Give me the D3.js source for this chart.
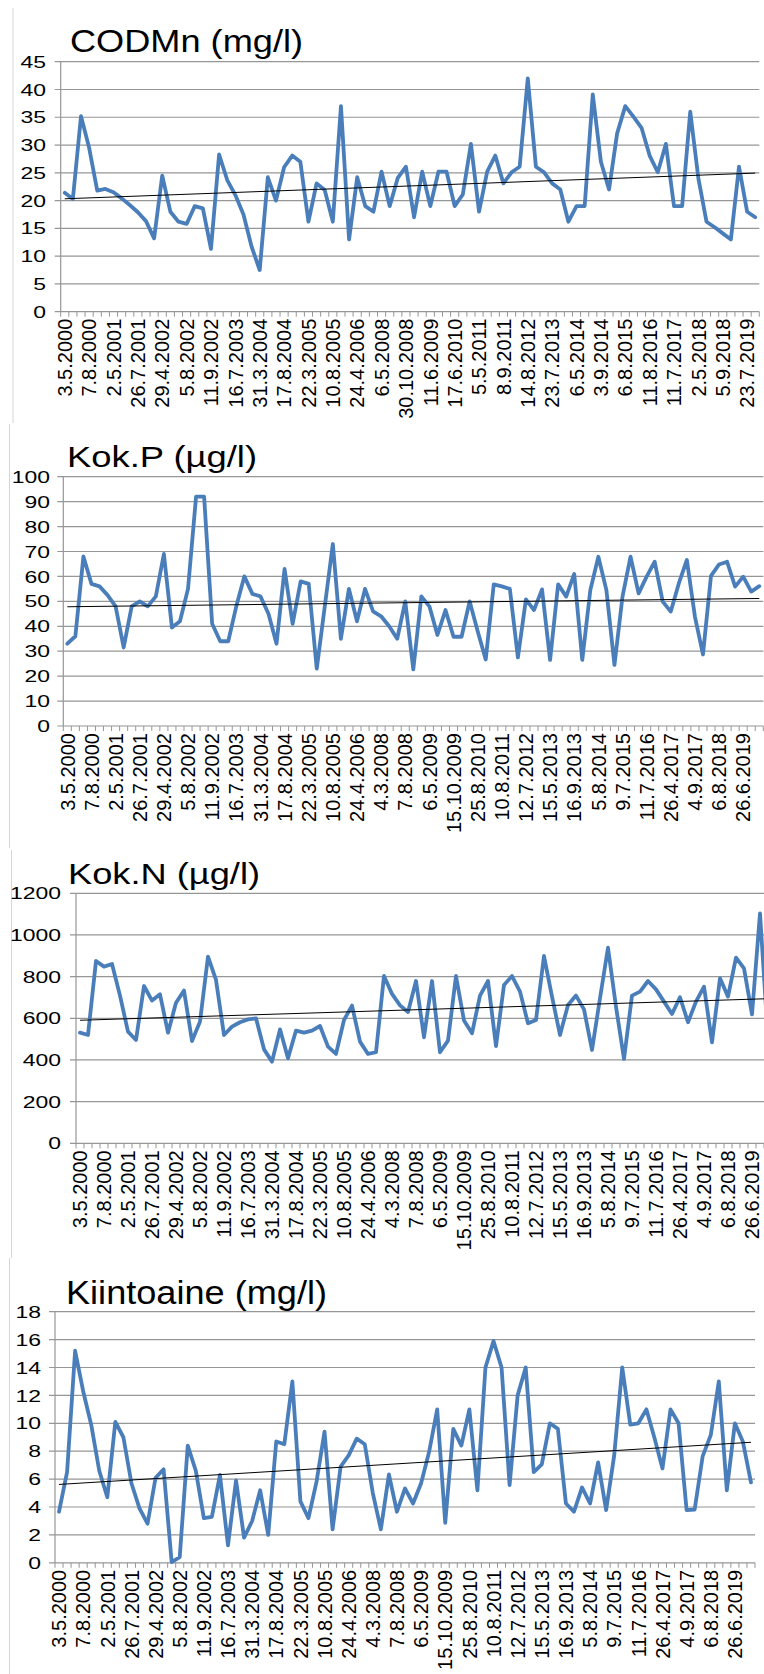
<!DOCTYPE html>
<html><head><meta charset="utf-8">
<script src="https://cdn.jsdelivr.net/npm/d3@7"></script>
<style>body{margin:0;background:#fff}svg{display:block}text{font-family:"Liberation Sans",Arial,sans-serif;fill:#000}</style>
</head><body><svg id="c" width="764" height="1674"></svg>
<script>
const codLabels = ["3.5.2000","7.8.2000","2.5.2001","26.7.2001","29.4.2002","5.8.2002","11.9.2002","16.7.2003","31.3.2004","17.8.2004","22.3.2005","10.8.2005","24.4.2006","6.5.2008","30.10.2008","11.6.2009","17.6.2010","5.5.2011","8.9.2011","14.8.2012","23.7.2013","6.5.2014","3.9.2014","6.8.2015","11.8.2016","11.7.2017","2.5.2018","5.9.2018","23.7.2019"];
const codValues = [21.4,20.3,35.2,29.5,21.8,22.1,21.5,20.4,19.2,17.9,
 16.3,13.2,24.5,18,16.2,15.8,19,18.6,11.3,28.3,
 23.7,21,17.5,11.7,7.5,24.2,20,26,28.1,27,
 16.2,23.1,21.9,16.2,37,13,24.2,19,18,25.2,
 19,24.1,26.1,17,25.2,19,25.2,25.2,19,21.1,
 30.2,18,25.2,28.1,23.1,25.1,26.1,42,26.1,25.1,
 23.1,22,16.2,19,19,39.1,27,22,32.1,37,
 35.1,33.1,28.1,25.1,30.2,19,19,36,24,16.2,
 15.2,14.1,13,26.1,18,17];

const nutLabels = ["3.5.2000","7.8.2000","2.5.2001","26.7.2001","29.4.2002","5.8.2002","11.9.2002","16.7.2003","31.3.2004","17.8.2004","22.3.2005","10.8.2005","24.4.2006","4.3.2008","7.8.2008","6.5.2009","15.10.2009","25.8.2010","10.8.2011","12.7.2012","15.5.2013","16.9.2013","5.8.2014","9.7.2015","11.7.2016","26.4.2017","4.9.2017","6.8.2018","26.6.2019"];
const kokPValues = [33,36,68,57,56,52.5,48,31.5,48,50,
 48,52,69,39.5,42,55,92,92,41,34,
 34,48,60,53,52,45,33,63,41,58,
 57,23,48,73,35,55,42,55,46,44,
 40,35,50,22.7,52,48,36.5,46.5,35.8,35.8,
 50,38,26.7,56.8,56,55,27.5,50.8,46.5,54.8,
 26.5,56.8,51.9,61,26.5,54.5,67.9,54.5,24.5,51.9,
 67.9,53.2,59.9,65.9,49.9,45.9,57.2,66.6,43.9,28.7,
 60.2,64.8,65.9,55.9,59.9,53.9,56.1];
const kokNValues = [531,520,875,848,861,709,536,496,755,685,
 715,531,675,733,491,584,896,784,520,560,
 581,595,600,451,392,547,408,541,531,541,
 563,464,429,592,661,488,429,437,803,717,
 662,630,779,509,779,437,493,803,589,528,
 709,779,467,760,803,728,576,592,899,704,
 520,664,709,643,448,696,939,656,405,709,
 728,779,739,680,621,701,581,680,752,485,
 792,704,891,840,619,1104,500];
const kiintoValues = [3.66,6.5,15.2,12.3,9.9,6.6,4.7,10.1,9.0,5.7,
 3.9,2.8,6.1,6.7,0.05,0.4,8.4,6.6,3.2,3.3,
 6.3,1.25,5.9,1.8,3.0,5.2,2.0,8.7,8.5,13,
 4.4,3.2,5.8,9.4,2.4,6.9,7.7,8.9,8.5,5.0,
 2.4,6.33,3.66,5.33,4.25,5.7,7.96,11,2.87,9.6,
 8.4,11,5.2,14,15.9,14,5.57,12,14,6.5,
 7.05,10,9.6,4.25,3.66,5.4,4.25,7.2,3.78,7.7,
 14,9.9,10,11,8.96,6.76,11,10,3.78,3.82,
 7.65,9.15,13,5.2,10,8.67,5.76];

const titles = ["CODMn (mg/l)","Kok.P (µg/l)","Kok.N (µg/l)","Kiintoaine (mg/l)"];
const yMax = [45,100,1200,18];
const yStep = [5,10,200,2];

const layout = [
 {x0:60.7,x1:759.3,yTop:61.7,yBot:311.7,lr:46,tx:70,ty:52.3,ts:32,tw:233,bx:13,by0:8,by1:423},
 {x0:63.3,x1:763.3,yTop:476.7,yBot:726,lr:50,tx:67,ty:466.7,ts:30,tw:190,bx:9.5,by0:424,by1:848},
 {x0:76,x1:772,yTop:893.3,yBot:1143.3,lr:61,tx:68,ty:884.3,ts:30,tw:192,bx:11.5,by0:850,by1:1258},
 {x0:55,x1:755,yTop:1311.7,yBot:1562.8,lr:41,tx:66,ty:1304,ts:33,tw:261,bx:9.5,by0:1258,by1:1674}
];
const series = [codValues,kokPValues,kokNValues,kiintoValues];
const catLabels = [codLabels,nutLabels,nutLabels,nutLabels];

const svg = d3.select("#c");
svg.append("rect").attr("width",764).attr("height",1674).attr("fill","#fff");

series.forEach((vals,k)=>{
  const p = layout[k];
  const N = vals.length;
  const x = d3.scaleBand().domain(d3.range(N)).range([p.x0,p.x1]);
  const cx = i => x(i)+x.bandwidth()/2;
  const y = d3.scaleLinear().domain([0,yMax[k]]).range([p.yBot,p.yTop]);
  const g = svg.append("g");

  g.append("line").attr("x1",p.bx).attr("x2",p.bx).attr("y1",p.by0).attr("y2",p.by1)
    .attr("stroke","#d6d6d6").attr("stroke-width",1);

  const ticks = d3.range(0,yMax[k]+yStep[k]/2,yStep[k]);
  g.selectAll("line.grid").data(ticks).join("line").attr("class","grid")
    .attr("x1",p.x0-6).attr("x2",p.x1).attr("y1",d=>y(d)).attr("y2",d=>y(d))
    .attr("stroke","#969696").attr("stroke-width",1.2);
  g.append("line").attr("x1",p.x0).attr("x2",p.x0).attr("y1",p.yTop).attr("y2",p.yBot)
    .attr("stroke","#969696").attr("stroke-width",1.2);

  g.selectAll("line.xt").data(d3.range(N+1)).join("line").attr("class","xt")
    .attr("x1",i=>p.x0+i*x.step()).attr("x2",i=>p.x0+i*x.step())
    .attr("y1",p.yBot).attr("y2",p.yBot+5).attr("stroke","#969696").attr("stroke-width",1);

  g.selectAll("text.yl").data(ticks).join("text").attr("class","yl")
    .attr("transform",d=>`translate(${p.lr},${y(d)}) scale(1.35,1)`)
    .attr("text-anchor","end").attr("dy","0.36em").attr("font-size",17).text(d=>d);

  const labs = catLabels[k].map((t,j)=>({t,i:j*3}));
  g.selectAll("text.xl").data(labs).join("text").attr("class","xl")
    .attr("transform",d=>`translate(${cx(d.i)},${p.yBot+7}) rotate(-90)`)
    .attr("text-anchor","end").attr("dy","0.36em").attr("font-size",20).text(d=>d.t);

  g.append("text").attr("x",p.tx).attr("y",p.ty).attr("font-size",p.ts)
    .attr("textLength",p.tw).attr("lengthAdjust","spacingAndGlyphs").text(titles[k]);

  const line = d3.line().x((d,i)=>cx(i)).y(d=>y(d));
  g.append("path").datum(vals).attr("d",line).attr("fill","none")
    .attr("stroke","#4a7ebb").attr("stroke-width",3.8).attr("stroke-linejoin","round").attr("stroke-linecap","round");

  const xs = d3.range(N), mx = d3.mean(xs), my = d3.mean(vals);
  const slope = d3.sum(xs,i=>(i-mx)*(vals[i]-my))/d3.sum(xs,i=>(i-mx)*(i-mx));
  const icpt = my - slope*mx;
  g.append("line").attr("x1",cx(0)).attr("x2",cx(N-1))
    .attr("y1",y(icpt)).attr("y2",y(icpt+slope*(N-1)))
    .attr("stroke","#000").attr("stroke-width",1);
});
</script></body></html>
